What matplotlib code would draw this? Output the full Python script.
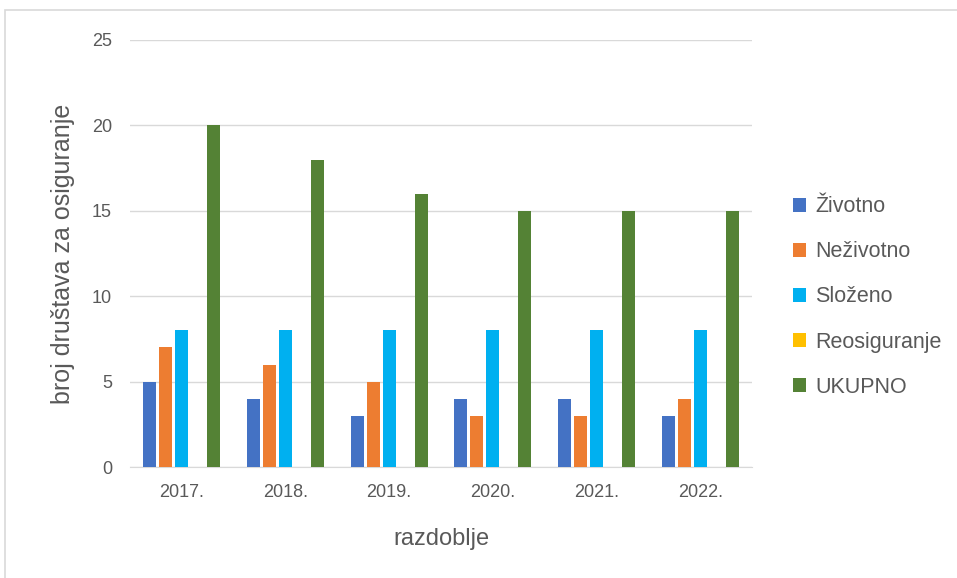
import matplotlib.pyplot as plt
import numpy as np
from matplotlib.patches import Rectangle

years = ["2017.", "2018.", "2019.", "2020.", "2021.", "2022."]
zivotno = [5, 4, 3, 4, 4, 3]
nezivotno = [7, 6, 5, 3, 3, 4]
slozeno = [8, 8, 8, 8, 8, 8]
reosiguranje = [0, 0, 0, 0, 0, 0]
ukupno = [20, 18, 16, 15, 15, 15]

series = [
    ("Životno", zivotno, "#4472C4"),
    ("Neživotno", nezivotno, "#ED7D31"),
    ("Složeno", slozeno, "#00B0F0"),
    ("Reosiguranje", reosiguranje, "#FFC000"),
    ("UKUPNO", ukupno, "#548235"),
]


def main():
    plt.rcParams["font.family"] = ["Liberation Sans", "DejaVu Sans"]
    text_color = "#595959"

    fig = plt.figure(figsize=(9.57, 5.78), dpi=100)
    ax = fig.add_axes([130 / 957, 111 / 578, 622 / 957, 427 / 578])

    # outer chart frame
    fig.patches.append(Rectangle((5 / 957, -0.1), 1.2, (568 / 578) + 0.1,
                                 transform=fig.transFigure, fill=False,
                                 edgecolor="#D9D9D9", linewidth=1.2))

    x = np.arange(len(years))
    step = 0.154
    width = 0.125
    handles = []
    for i, (name, vals, color) in enumerate(series):
        b = ax.bar(x + (i - 2) * step, vals, width, color=color, label=name, zorder=3)
        handles.append(b)

    ax.set_xlim(-0.5, len(years) - 0.5)
    ax.set_ylim(0, 25)
    ax.set_yticks(range(0, 26, 5))
    ax.set_xticks(x)
    ax.set_xticklabels(years)
    ax.grid(axis="y", color="#D9D9D9", linewidth=1, zorder=0)
    for s in ["top", "right", "left"]:
        ax.spines[s].set_visible(False)
    ax.spines["bottom"].set_color("#D9D9D9")
    ax.tick_params(length=0, labelsize=13, labelcolor=text_color)
    ax.tick_params(axis="y", pad=13)
    ax.tick_params(axis="x", pad=12)

    ax.set_xlabel("razdoblje", fontsize=17, color=text_color, labelpad=20)
    ax.set_ylabel("broj društava za osiguranje", fontsize=18, color=text_color, labelpad=12)

    fig.legend(handles=handles, loc="center left", bbox_to_anchor=(774 / 957, 1 - 297 / 578),
               frameon=False, fontsize=15.5, labelcolor=text_color,
               handlelength=0.6, handleheight=0.6, handletextpad=0.4, labelspacing=1.12)

    fig.savefig("out.png", dpi=100)


if __name__ == "__main__":
    main()
